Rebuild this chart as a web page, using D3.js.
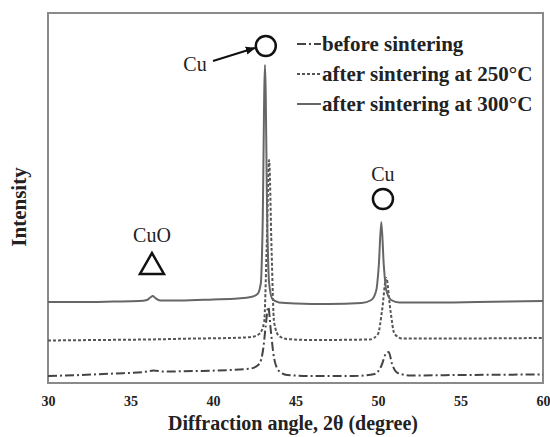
<!DOCTYPE html>
<html>
<head>
<meta charset="utf-8">
<script src="https://cdn.jsdelivr.net/npm/d3@7"></script>
<style>
  body { margin: 0; background: #fff; }
  svg { display: block; }
</style>
</head>
<body>
<div id="chart"></div>
<script>
// XRD patterns, 2theta (degree) vs intensity (a.u.)
var before = [
  [30, 7], [32, 8], [34, 9.5], [35.8, 11], [36.4, 12.5], [37, 11.5], [39, 12], [41, 13],
  [42.3, 14.5], [42.8, 19], [43.05, 35], [43.2, 58], [43.35, 76], [43.5, 53], [43.7, 25],
  [44.0, 12], [44.5, 8], [46, 7], [48.5, 7], [49.8, 9], [50.2, 17], [50.5, 30], [50.65, 31],
  [50.85, 19], [51.2, 10], [52, 7.5], [55, 8], [60, 8.5]
];
var after250 = [
  [30, 42.5], [33, 43], [36, 43.5], [39, 44.5], [41, 45], [42.3, 46], [42.8, 49], [43.1, 61],
  [43.25, 133], [43.4, 223], [43.55, 133], [43.7, 61], [44.0, 47], [44.5, 44], [46, 43],
  [49.5, 43.5], [50.0, 49], [50.25, 73], [50.5, 105], [50.75, 73], [51.0, 49], [51.5, 44.5],
  [54, 44.5], [60, 45]
];
var after300 = [
  [30, 81], [32, 81], [34, 81.5], [35.5, 82], [36.0, 83], [36.2, 85.5], [36.35, 87], [36.5, 85],
  [36.8, 82.5], [38, 82.5], [40, 83.5], [41.5, 84.5], [42.3, 86], [42.7, 89], [42.9, 100],
  [43.0, 150], [43.15, 318], [43.3, 150], [43.4, 100], [43.6, 84], [44.0, 80.5], [45, 79.5],
  [47, 79], [49, 80], [49.6, 83], [49.9, 93], [50.05, 118], [50.2, 161], [50.35, 118],
  [50.5, 93], [50.8, 83], [51.3, 80.5], [53, 80.5], [56, 81], [60, 82]
];

var seriesNames = ["before sintering", "after sintering at 250\u00b0C", "after sintering at 300\u00b0C"];
var xTicks = [30, 35, 40, 45, 50, 55, 60];

// phase markers: [2theta, intensity]
var cuPeaks = [[43.2, 337], [50.3, 184]];
var cuoPeaks = [[36.3, 119]];

var width = 550, height = 437;
var svg = d3.select("#chart").append("svg")
  .attr("width", width)
  .attr("height", height);

var x = d3.scaleLinear().domain([30, 60]).range([48, 543]);
var y = d3.scaleLinear().domain([0, 370]).range([383, 13]);

var serif = "'Liberation Serif', 'Times New Roman', serif";

// frame
svg.append("rect")
  .attr("x", 48).attr("y", 13)
  .attr("width", 495).attr("height", 370)
  .style("fill", "none")
  .style("stroke", "#8a8a8a")
  .style("stroke-width", 2);

// x axis
var xAxis = svg.append("g")
  .attr("transform", "translate(0,383)")
  .call(d3.axisBottom(x).tickValues(xTicks).tickSize(0).tickPadding(13).tickFormat(d3.format("d")));
xAxis.select(".domain").remove();
xAxis.selectAll("text")
  .style("font-family", serif)
  .style("font-weight", "bold")
  .style("font-size", "14px")
  .style("fill", "#222");

svg.append("text")
  .attr("x", 293).attr("y", 430)
  .attr("text-anchor", "middle")
  .style("font-family", serif)
  .style("font-weight", "bold")
  .style("font-size", "20px")
  .style("fill", "#222")
  .text("Diffraction angle, 2\u03b8 (degree)");

svg.append("text")
  .attr("transform", "translate(26,207) rotate(-90)")
  .attr("text-anchor", "middle")
  .style("font-family", serif)
  .style("font-weight", "bold")
  .style("font-size", "21px")
  .style("fill", "#222")
  .text("Intensity");

var line = d3.line()
  .x(function (d) { return x(d[0]); })
  .y(function (d) { return y(d[1]); })
  .curve(d3.curveMonotoneX);

var styles = [
  { data: before, color: "#444", dash: "9,3,2,3", w: 2 },
  { data: after250, color: "#555", dash: "3,2", w: 2 },
  { data: after300, color: "#666", dash: null, w: 2 }
];

styles.forEach(function (s) {
  svg.append("path")
    .datum(s.data)
    .attr("d", line)
    .style("fill", "none")
    .style("stroke", s.color)
    .style("stroke-width", s.w)
    .style("stroke-dasharray", s.dash);
});

// legend
styles.forEach(function (s, i) {
  var ly = 44 + i * 30;
  svg.append("line")
    .attr("x1", 297).attr("x2", 321)
    .attr("y1", ly).attr("y2", ly)
    .style("stroke", s.color)
    .style("stroke-width", s.w)
    .style("stroke-dasharray", s.dash);
  svg.append("text")
    .attr("x", 322).attr("y", ly)
    .attr("dy", "0.35em")
    .style("font-family", serif)
    .style("font-weight", "bold")
    .style("font-size", "21px")
    .style("fill", "#222")
    .text(seriesNames[i]);
});

// Cu circles
svg.selectAll("circle.cu")
  .data(cuPeaks)
  .enter()
  .append("circle")
  .attr("class", "cu")
  .attr("cx", function (d) { return x(d[0]); })
  .attr("cy", function (d) { return y(d[1]); })
  .attr("r", 10)
  .style("fill", "none")
  .style("stroke", "#111")
  .style("stroke-width", 2.5);

// CuO triangle
svg.selectAll("path.cuo")
  .data(cuoPeaks)
  .enter()
  .append("path")
  .attr("class", "cuo")
  .attr("d", function (d) {
    var cx = x(d[0]), cy = y(d[1]);
    return "M" + (cx - 12) + "," + (cy + 10) + "L" + (cx + 12) + "," + (cy + 10) + "L" + cx + "," + (cy - 11) + "Z";
  })
  .style("fill", "none")
  .style("stroke", "#111")
  .style("stroke-width", 2.5);

// labels
var labelStyle = function (sel) {
  sel.attr("text-anchor", "middle")
    .attr("dy", "0.35em")
    .style("font-family", serif)
    .style("font-size", "20px")
    .style("fill", "#222");
};
svg.append("text").attr("x", 195).attr("y", 64).call(labelStyle).text("Cu");
svg.append("text").attr("x", x(cuPeaks[1][0])).attr("y", y(cuPeaks[1][1]) - 25).call(labelStyle).text("Cu");
svg.append("text").attr("x", x(cuoPeaks[0][0])).attr("y", y(cuoPeaks[0][1]) - 29).call(labelStyle).text("CuO");

// arrow to main Cu circle
svg.append("defs").append("marker")
  .attr("id", "arrow")
  .attr("viewBox", "0 0 10 10")
  .attr("refX", 9).attr("refY", 5)
  .attr("markerWidth", 5).attr("markerHeight", 5)
  .attr("orient", "auto")
  .append("path")
  .attr("d", "M0,1L10,5L0,9Z")
  .style("fill", "#111");

svg.append("line")
  .attr("x1", 213).attr("y1", 61)
  .attr("x2", x(cuPeaks[0][0]) - 11).attr("y2", y(cuPeaks[0][1]) + 2)
  .style("stroke", "#111")
  .style("stroke-width", 2)
  .attr("marker-end", "url(#arrow)");
</script>
</body>
</html>
